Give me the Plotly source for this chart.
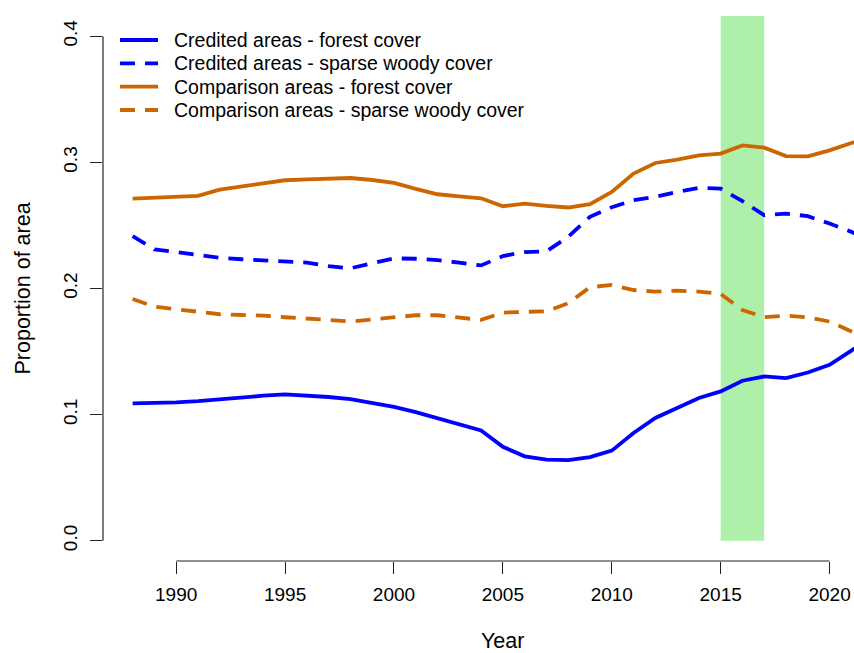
import plotly.graph_objects as go

# ---- data -------------------------------------------------------------
years = list(range(1988, 2023))

credited_forest = [0.1089, 0.1092, 0.1098, 0.1108, 0.1124, 0.1138, 0.1150, 0.1161,
                   0.1152, 0.1140, 0.1124, 0.1095, 0.1061, 0.1020, 0.0974, 0.0925,
                   0.0875, 0.0745, 0.0670, 0.0644, 0.0639, 0.0663, 0.0715, 0.0855,
                   0.0974, 0.1053, 0.1132, 0.1184, 0.1269, 0.1303, 0.1290, 0.1334,
                   0.1395, 0.1508, 0.1630]

credited_sparse = [0.2415, 0.2310, 0.2290, 0.2265, 0.2243, 0.2232, 0.2225, 0.2217,
                   0.2205, 0.2178, 0.2160, 0.2200, 0.2239, 0.2236, 0.2225, 0.2205,
                   0.2183, 0.2257, 0.2289, 0.2294, 0.2410, 0.2568, 0.2644, 0.2700,
                   0.2726, 0.2765, 0.2797, 0.2792, 0.2692, 0.2581, 0.2594, 0.2573,
                   0.2515, 0.2449, 0.2370]

comparison_forest = [0.2713, 0.2718, 0.2725, 0.2734, 0.2784, 0.2810, 0.2835, 0.2858,
                     0.2865, 0.2870, 0.2876, 0.2860, 0.2837, 0.2790, 0.2747, 0.2730,
                     0.2715, 0.2652, 0.2673, 0.2655, 0.2642, 0.2668, 0.2765, 0.2911,
                     0.2995, 0.3021, 0.3055, 0.3069, 0.3134, 0.3116, 0.3050, 0.3047,
                     0.3095, 0.3153, 0.3210]

comparison_sparse = [0.1917, 0.1856, 0.1836, 0.1817, 0.1796, 0.1790, 0.1785, 0.1772,
                     0.1765, 0.1751, 0.1738, 0.1755, 0.1772, 0.1788, 0.1788, 0.1770,
                     0.1751, 0.1809, 0.1817, 0.1820, 0.1883, 0.2010, 0.2028, 0.1988,
                     0.1975, 0.1983, 0.1975, 0.1957, 0.1830, 0.1772, 0.1785, 0.1772,
                     0.1738, 0.1659, 0.1580]

series_names = ["Credited areas - forest cover",
                "Credited areas - sparse woody cover",
                "Comparison areas - forest cover",
                "Comparison areas - sparse woody cover"]
series_values = [credited_forest, credited_sparse, comparison_forest, comparison_sparse]

highlight_period = [2015, 2017]

x_ticks = [1990, 1995, 2000, 2005, 2010, 2015, 2020]
y_ticks = [0.0, 0.1, 0.2, 0.3, 0.4]

# ---- styling ----------------------------------------------------------
BLUE = "#0000FF"
ORANGE = "#CD6600"
BAND = "#aef0aa"
AXIS = "#222222"
FONT = "Liberation Sans, Arial, sans-serif"
DASH = "15px,10px"

series_colors = [BLUE, BLUE, ORANGE, ORANGE]
series_dash = ["solid", DASH, "solid", DASH]

W, H = 854, 653
ML, MR, MT, MB = 103, 0, 16, 92
plot_w = W - ML - MR
plot_h = H - MT - MB

# R-style 4% padding around the data range
x_pad = 0.04 * (years[-1] - years[0])
x_lo = years[0] - x_pad
px_per_year = 21.78
x_hi = x_lo + plot_w / px_per_year
y_lo, y_hi = -0.016, 0.416

fig = go.Figure()

for name, vals, col, dash in zip(series_names, series_values, series_colors, series_dash):
    fig.add_trace(go.Scatter(
        x=years, y=vals, mode="lines", name=name,
        line=dict(color=col, width=3.8, dash=dash),
        showlegend=False,
    ))

# highlighted period band, from zero to the top of the plot region
fig.add_shape(type="rect", xref="x", yref="y",
              x0=highlight_period[0], x1=highlight_period[1], y0=0, y1=y_hi,
              fillcolor=BAND, line=dict(width=0), layer="below")

# axis lines spanning only the tick range
fig.add_shape(type="line", xref="paper", yref="y", x0=0, x1=0,
              y0=y_ticks[0], y1=y_ticks[-1], line=dict(color=AXIS, width=1.2))
fig.add_shape(type="line", xref="x", yref="paper", x0=x_ticks[0], x1=x_ticks[-1],
              y0=0, y1=0, line=dict(color=AXIS, width=1.2))

# legend (no box), drawn as sample lines and labels
leg_rows_px = [40, 63.3, 86.7, 110]
leg_line_px = (120, 158)
leg_text_px = 172
for name, col, dash, ry in zip(series_names, series_colors, series_dash, leg_rows_px):
    yp = (H - MB - ry) / plot_h
    fig.add_shape(type="line", xref="paper", yref="paper",
                  x0=(leg_line_px[0] - ML) / plot_w, x1=(leg_line_px[1] - ML) / plot_w,
                  y0=yp, y1=yp, line=dict(color=col, width=3.8, dash=dash))
    fig.add_annotation(x=(leg_text_px - ML) / plot_w, y=yp, xref="paper", yref="paper",
                       text=name, showarrow=False, xanchor="left", yanchor="middle",
                       font=dict(family=FONT, size=19.5, color="black"))

# axis titles
fig.add_annotation(x=0.5 * (x_ticks[0] + x_ticks[-1]), y=0, xref="x", yref="paper",
                   text="Year", showarrow=False, yanchor="middle", yshift=-80,
                   font=dict(family=FONT, size=21.5, color="black"))
fig.add_annotation(x=0, y=0.5 * (y_ticks[0] + y_ticks[-1]), xref="paper", yref="y",
                   text="Proportion of area", showarrow=False, textangle=-90,
                   xanchor="center", xshift=-81,
                   font=dict(family=FONT, size=21.5, color="black"))

fig.update_xaxes(range=[x_lo, x_hi], tickvals=x_ticks, ticks="outside", ticklen=12,
                 tickwidth=1.2, tickcolor=AXIS, showline=False, showgrid=False,
                 zeroline=False, ticklabelstandoff=4,
                 tickfont=dict(family=FONT, size=19, color="black"))
fig.update_yaxes(range=[y_lo, y_hi], tickvals=y_ticks, tickformat=".1f", ticks="outside",
                 ticklen=12, tickwidth=1.2, tickcolor=AXIS, tickangle=-90,
                 showline=False, showgrid=False, zeroline=False, ticklabelstandoff=5,
                 tickfont=dict(family=FONT, size=19, color="black"))

fig.update_layout(width=W, height=H, margin=dict(l=ML, r=MR, t=MT, b=MB),
                  plot_bgcolor="white", paper_bgcolor="white")

fig.write_html("out.html")
